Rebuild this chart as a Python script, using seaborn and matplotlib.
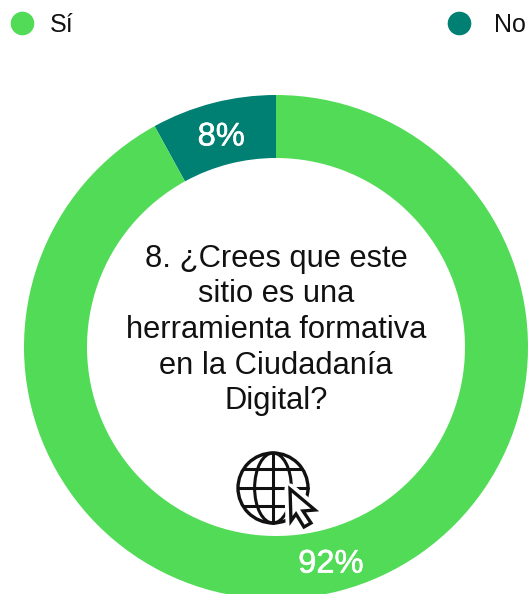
import matplotlib
matplotlib.use('Agg')
import matplotlib.pyplot as plt
import matplotlib.patheffects as pe
from matplotlib.lines import Line2D
from matplotlib.patches import Circle, Ellipse, Polygon
import seaborn as sns

categories = ['No', 'Sí']
values = [8, 92]
question = '8. ¿Crees que este\nsitio es una\nherramienta formativa\nen la Ciudadanía\nDigital?'

sns.set_theme(style='white')
plt.rcParams['font.family'] = ['Liberation Sans', 'DejaVu Sans']
colors = sns.color_palette(['#007F73', '#52DB57'])

W, H = 532, 594
fig = plt.figure(figsize=(W / 100, H / 100), dpi=100)

# ring: the axes box is the square around the circle, it runs off the bottom
ax = fig.add_axes([24 / W, (H - 599) / H, 504 / W, 504 / H])
wedges, texts, pcts = ax.pie(values, colors=colors, startangle=90, counterclock=True,
                             radius=1, autopct='%d%%', pctdistance=0.875,
                             wedgeprops=dict(width=0.25, linewidth=0),
                             textprops=dict(color='white', fontsize=23.5))
ax.set_xlim(-1, 1)
ax.set_ylim(-1, 1)
for t in pcts:
  # no medium weight installed, thicken the regular one a bit
  t.set_path_effects([pe.withStroke(linewidth=0.4, foreground='white')])
  t.set_y(t.get_position()[1] - 0.014)

# overlay in pixels for the question and the globe icon
ov = fig.add_axes([0, 0, 1, 1])
ov.set_xlim(0, W)
ov.set_ylim(H, 0)
ov.axis('off')
ov.patch.set_alpha(0)
ov.text(276, 330, question, ha='center', va='center', fontsize=22.2,
        color='#111111', linespacing=1.25)

ink = '#111111'
gx, gy, gr = 273, 488, 35
ov.add_patch(Circle((gx, gy), gr, fill=False, ec=ink, lw=2.4))
ov.add_patch(Ellipse((gx, gy), gr * 1.05, gr * 2, fill=False, ec=ink, lw=2.2))
ov.plot([gx, gx], [gy - gr, gy + gr], color=ink, lw=2.2)
for dy, half in [(-19, 29), (0, 35), (18, 29)]:
  ov.plot([gx - half, gx + half], [gy + dy, gy + dy], color=ink, lw=2.2)

cursor = [(290, 489), (315, 510), (303, 511), (311, 523), (304, 527), (296, 514), (291, 521)]
ov.add_patch(Polygon(cursor, closed=True, fc='white', ec='white', lw=8, zorder=3, joinstyle='round'))
ov.add_patch(Polygon(cursor, closed=True, fc='white', ec=ink, lw=2.4, zorder=4, joinstyle='miter'))

# the two legend entries sit at opposite corners
for cat, col, anchor, pad in [('Sí', colors[1], (-0.033, 1.003), 0.1), ('No', colors[0], (0.787, 1.003), 0.43)]:
  h = Line2D([], [], marker='o', ls='', color=col, markersize=17, markeredgewidth=0, label=cat)
  fig.legend(handles=[h], loc='upper left', bbox_to_anchor=anchor, frameon=False, fontsize=18,
             handletextpad=pad, labelcolor='#111111', borderaxespad=0.2)

plt.savefig('out.png', dpi=100)
